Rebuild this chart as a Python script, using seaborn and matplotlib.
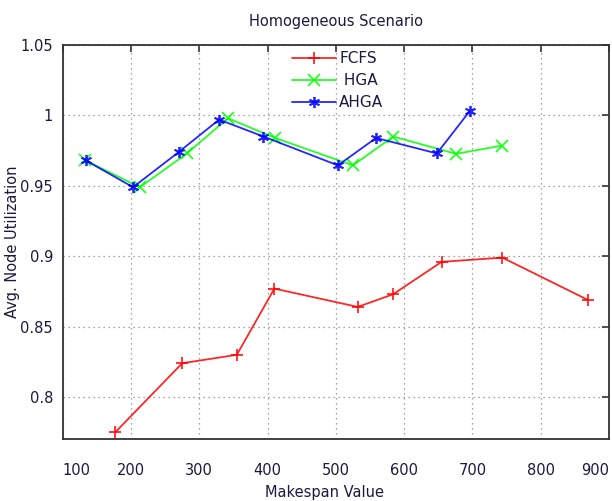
import matplotlib
matplotlib.use("Agg")
import matplotlib.pyplot as plt
import seaborn as sns
import pandas as pd

# Data
fcfs_x = [177, 275, 355, 410, 532, 584, 655, 744, 869]
fcfs_y = [0.775, 0.824, 0.830, 0.877, 0.864, 0.873, 0.896, 0.899, 0.869]

hga_x = [133, 213, 282, 342, 411, 525, 584, 676, 743]
hga_y = [0.968, 0.949, 0.973, 0.998, 0.984, 0.9645, 0.985, 0.9727, 0.9785]

ahga_x = [134, 203, 270, 329, 394, 503, 559, 648, 696]
ahga_y = [0.968, 0.949, 0.974, 0.997, 0.985, 0.9645, 0.984, 0.973, 1.003]

labels = ["FCFS", " HGA", "AHGA"]
colors = ["#ff0000", "#00ff00", "#0000ff"]
markers = ["+", "x", (6, 2, 0)]

x_ticks = [100, 200, 300, 400, 500, 600, 700, 800, 900]
y_ticks = [0.8, 0.85, 0.9, 0.95, 1.0, 1.05]
y_tick_labels = ["0.8", "0.85", "0.9", "0.95", "1", "1.05"]

sns.set_theme(style="white")
plt.rcParams["font.family"] = ["DejaVu Sans"]

fig = plt.figure(figsize=(6.12, 5.01), dpi=100)
ax = fig.add_axes([0.1025, 0.1232, 0.8925, 0.787])

series = [(fcfs_x, fcfs_y), (hga_x, hga_y), (ahga_x, ahga_y)]
for (xs, ys), lab, col, mk in zip(series, labels, colors, markers):
    df = pd.DataFrame({"x": xs, "y": ys})
    sns.lineplot(data=df, x="x", y="y", ax=ax, color=col, marker=mk,
                 markersize=8, markeredgewidth=1.3, markeredgecolor=col,
                 linewidth=1.3, sort=False, label=lab, alpha=0.85)

ax.set_xlim(100, 900)
ax.set_ylim(0.77, 1.05)
ax.set_xticks(x_ticks)
ax.set_xticklabels([str(v) for v in x_ticks])
ax.set_yticks(y_ticks)
ax.set_yticklabels(y_tick_labels)

xt = ax.get_xticklabels()
xt[0].set_ha("left")
xt[-1].set_ha("right")

ax.grid(True, linestyle=(0, (1, 3)), color="#888888", linewidth=0.9)
ax.tick_params(axis="both", which="both", direction="in", length=5,
               width=1.2, color="#333333", top=True, right=True,
               labelsize=10.5, labelcolor="#1a1a40")
ax.tick_params(axis="x", pad=17)
ax.tick_params(axis="y", pad=7)
for sp in ax.spines.values():
    sp.set_color("#333333")
    sp.set_linewidth(1.3)

ax.set_xlabel("Makespan Value", fontsize=10.5, color="#1a1a40")
ax.set_ylabel("Avg. Node Utilization", fontsize=10.5, color="#1a1a40")
ax.xaxis.set_label_coords(0.48, -0.115)
ax.yaxis.set_label_coords(-0.079, 0.5)
ax.set_title("Homogeneous Scenario", fontsize=10.5, color="#1a1a40", pad=14)

leg = ax.legend(loc="center", bbox_to_anchor=(0.503, 0.909), frameon=False,
                fontsize=11, handlelength=2.9, handletextpad=0.2,
                labelspacing=0.45, borderpad=0.2)
for t in leg.get_texts():
    t.set_color("#1a1a40")

fig.savefig("out.png", dpi=100)
